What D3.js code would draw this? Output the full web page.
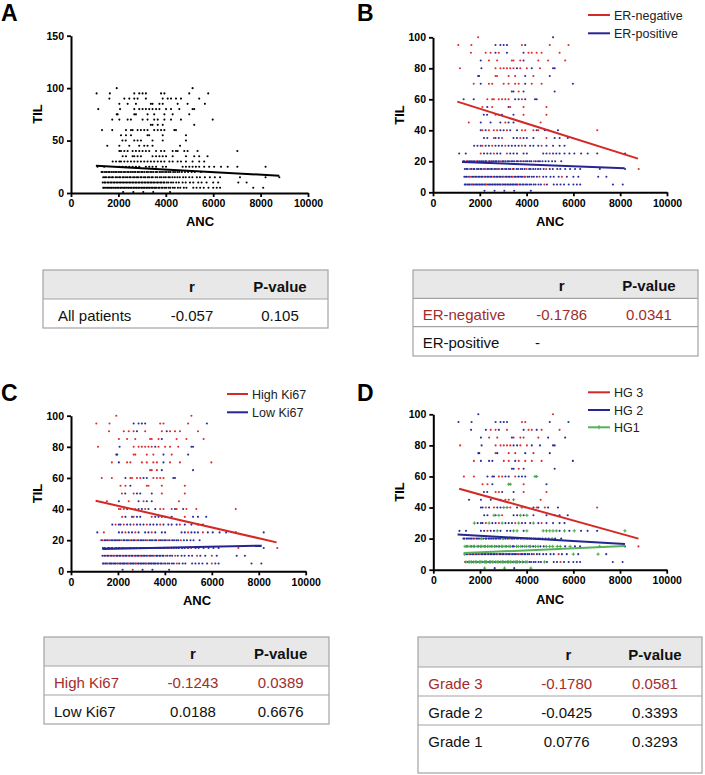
<!DOCTYPE html>
<html><head><meta charset="utf-8">
<script src="https://cdn.jsdelivr.net/npm/d3@7"></script>
<style>
body{margin:0;background:#fff}
svg{display:block}
text{font-family:Arial,"Liberation Sans",Helvetica,sans-serif}
</style>
</head><body>
<svg id="c" width="705" height="775"></svg>
<script>
// ---------------- DATA ----------------
const tilLevels = [100,95,90,85,80,75,70,65,60,55,50,45,40,35,30,25,20,15,10,5,1];
const ancByLevel = [
 [1930,5130],
 [1080,1640,2670,2880,3020,3160,3800,3940,4990,5790],
 [1620,2250,2460,2670,2810,3160,3870,4080,4220,4430,4640,5410],
 [2040,2390,2740,3370,3440,3730,3870,4500,4920,5650],
 [1150,2070,2670,2880,3020,3160,3300,3440,3590,3730,4010,4220,4570,5130,5200],
 [1930,1970,2670,2740,3230,3510,3940,4290,4990],
 [1740,2040,2390,2530,3020,3230,3510,3660,3940,4220,4640,5980],
 [3370,3440,3660,3870,5200],
 [1310,1740,2320,2530,2600,2810,2950,3090,3230,3510,3660,3800,3940,4360,4430],
 [2110,2320,2530,3230,3300,3870,4850],
 [2170,2310,2670,2810,2950,3440,3870,4850],
 [1530,2040,2460,2880,3090,3230,3440,4600],
 [2040,2110,2250,2390,2600,2740,2880,3020,3160,3300,3590,3800,3940,4290,4430,4500,4780,4920,5340,7020],
 [2180,2320,2600,2670,2810,2950,3440,3590,3730,3870,4010,4290,4850,5200,5410,5760],
 [1760,1900,2040,2110,2250,2390,2530,2670,2810,2950,3090,3230,3370,3510,3660,3800,3940,4150,4290,4500,4640,4850,5130,5410,5620],
 [1120,1400,2040,2180,2320,2460,2600,2740,2880,3160,3300,3440,3590,3870,4010,4710,4850,4990,5130,5270,5410,5620,5830,6040,6330,6610,7020,8210],
 [1290,1340,1430,1490,1570,1630,1710,1780,1860,1920,2000,2070,2140,2230,2280,2370,2430,2510,2580,2660,2720,2810,2870,2960,3020,3100,3190,3250,3340,3410,3480,3580,3630,3730,3800,3880,3970,4040,4130,4200,4310,4390,4490,4570,4680,4810,4940,5090,5220,5480],
 [1360,1430,1480,1580,1640,1730,1770,1880,1940,2030,2080,2180,2230,2320,2390,2480,2520,2620,2690,2780,2830,2930,2980,3080,3140,3240,3300,3400,3450,3570,3640,3750,3820,3920,4000,4110,4170,4280,4380,4490,4590,4730,4840,4990,5120,5310,5440,5650,5860,6070,6290,7130,8210,8790],
 [1340,1410,1450,1540,1590,1670,1720,1800,1850,1930,1980,2060,2110,2190,2240,2320,2370,2450,2500,2580,2630,2710,2760,2840,2890,2970,3020,3100,3150,3230,3280,3360,3410,3490,3540,3630,3670,3760,3810,3900,3940,4040,4110,4220,4310,4440,4550,4710,4840,5020,5160,5370,5510,5720,6000,6210,7060,7410],
 [1360,1400,1470,1530,1570,1640,1690,1730,1800,1860,1900,1970,2010,2080,2120,2190,2240,2280,2350,2410,2450,2520,2560,2630,2670,2740,2780,2850,2890,2960,3000,3070,3110,3180,3220,3290,3330,3400,3440,3510,3560,3610,3690,3730,3820,3870,3960,4020,4120,4190,4300,4380,4510,4610,4760,4870,5160,5300,5450,5600,5800,6000,6150,6290,7690,8110],
 [2200,2630,3050,3470,4180]
];
// ER status per point (N = ER-negative, P = ER-positive)
const erByLevel = [
 "NP","NNPPPPNPNN","NNNPNPPNNNNN","PNNNNNPNNN","NPNNNNNNPNNPNPP","PPNNNNPNP",
 "NPNNNNNNPNNP","PPNPP","PPNNNNNNNPPNPPP","NPNPNNN","PPNNPPNN","NPPPNPPN",
 "PNPNNNPPNPPNNNPNPNPN","PPNPPNPPNPPPNPPP","PPPNPPNPPPNPPPPNPPPPNPPPP",
 "PPNPPPNPPNPPPPPPPNPPPPPPPPPP",
 "PPNPPPPPNP"+"PPPPPNPPPP"+"PPNPPPPPPP"+"PPPPNPPPPP"+"NPPPPPPPPP",
 "PPPNPPPPPP"+"PPNPPPPPPP"+"NPPPPPPNPP"+"PPPPNPPPPP"+"PPNPPPPPPP"+"PPPN",
 "PPPPNPPPPP"+"PPPNPPPPPN"+"PPPPPPNPPP"+"PPNPPPPPPP"+"NPPPPPNPPP"+"PPNPPPPP",
 "PPPPPPNPPP"+"PPPPPPPNPP"+"PPPPPPPPPN"+"PPPPPPPPPP"+"PPNPPPPPPP"+"PPPPNPPPPP"+"PPPPPP",
 "PPPPP"
];
// Ki67 per point (H = high, L = low)
const ki67ByLevel = [
 "HH","HHLLLLHHHL","HHHHLHHLHHHH","HHHHHHLHHH","HLHHHHHHLHHHHLL","LLHHHHLHL",
 "HLHHHHHHLHHH","HHHLL","HHLHHHHLLHHHHLL","HHLHHHH","HLHLLLHH","HLHLHLLH",
 "HHHLHHLLHLLHHHLHLHHH","HLLHLLHLLLLLHLLL","LHLLHLLHLLLHLLLHLLLLHLLLL",
 "LHLLHLL"+"HLLLHLL"+"LLLHLLL"+"HLLLLLL",
 "LHLLLHLLLL"+"LLHLLLLHLL"+"LHLLLLLHLL"+"LLLHLLLLHL"+"LLLLHLLLLL",
 "LLHLLLLHLL"+"LLLLHLLLLL"+"HLLLLLLHLL"+"LLLLLLHLLL"+"LLLLHLLLLL"+"LHLH",
 "LHLLLHLLHL"+"LLLHLLLHLL"+"LHLLLHLLLL"+"HLLLHLLLLL"+"LHLLLHLLLL"+"LHLLHLLL",
 "LLLLHLLLLL"+"LLHLLLLLLL"+"HLLLLLHLLL"+"LLLLHLLLLL"+"LLLLLLHLLL"+"LLHLLLLLLL"+"LHLLLL",
 "LHLLL"
];
// Histological grade per point (1, 2, 3)
const gradeByLevel = [
 "23","2222223322","223323233233","2332333322","323333322332222","223233232",
 "322233233332","22322","332223322322211","3321132","22332233","22223313",
 "22323221132132323223","2212132212122222","1222312231222312221232222",
 "2222322122211211111121212221",
 "2222222322"+"2122222222"+"2221222322"+"2222212222"+"2222222122",
 "1211211121"+"1211121121"+"2111211221"+"1121121211"+"2211111212"+"2123",
 "1223222322"+"3222232222"+"2232222322"+"2322223222"+"2222322222"+"23221212",
 "3121112111"+"2111211121"+"1112111211"+"1211111211"+"1112121122"+"2222122232"+"222222",
 "12121"
];

const xTicks = [0,2000,4000,6000,8000,10000];
const yTicksA = [0,50,100,150];
const yTicksBCD = [0,20,40,60,80,100];

// regression lines: [[ANC start, TIL start],[ANC end, TIL end]]
const fitAll     = [[1050,26.1],[8790,16.5]];
const fitErNeg   = [[1040,58.5],[8760,21.7]];
const fitErPos   = [[1240,19.6],[8190,15.5]];
const fitHighKi  = [[1050,45.4],[8760,18.6]];
const fitLowKi   = [[1335,14.3],[8125,16.5]];
const fitHG3     = [[1110,52.1],[8790,20.0]];
const fitHG2     = [[1040,22.7],[8210,16.5]];
const fitHG1     = [[1300,10.7],[8210,15.2]];

const tableHeader = ["", "r", "P-value"];
const tableA = [["All patients","-0.057","0.105"]];
const tableB = [["ER-negative","-0.1786","0.0341"],["ER-positive","-",""]];
const tableC = [["High Ki67","-0.1243","0.0389"],["Low Ki67","0.0188","0.6676"]];
const tableD = [["Grade 3","-0.1780","0.0581"],["Grade 2","-0.0425","0.3393"],["Grade 1","0.0776","0.3293"]];

// ---------------- BUILD ----------------
const points = [];
tilLevels.forEach((til, i) => {
  ancByLevel[i].forEach((anc, j) => {
    points.push({anc, til,
      er: erByLevel[i].charAt(j) || "P",
      ki: ki67ByLevel[i].charAt(j) || "L",
      gr: gradeByLevel[i].charAt(j) || "2"});
  });
});

const RED = "#df2b2b", BLUE = "#2b2b9a", GREEN = "#45a34a";
const LRED = "#d42a26", LBLUE = "#262690", LGREEN = "#55b35a";
const svg = d3.select("#c");

function panel(cfg) {
  const x = d3.scaleLinear().domain([0, 10000]).range([cfg.x0, cfg.x1]);
  const y = d3.scaleLinear().domain([0, cfg.yMax]).range([cfg.yB, cfg.yT]);
  const g = svg.append("g");

  // points
  const circ = points.filter(d => !cfg.plus || !cfg.plus(d));
  g.append("g").selectAll("circle").data(circ).join("circle")
    .attr("cx", d => x(d.anc)).attr("cy", d => y(d.til))
    .attr("r", 1.05).attr("fill", d => cfg.color(d));
  if (cfg.plus) {
    const pl = points.filter(cfg.plus);
    g.append("g").selectAll("path").data(pl).join("path")
      .attr("d", d => `M${x(d.anc)-1.6},${y(d.til)}h3.2M${x(d.anc)},${y(d.til)-1.6}v3.2`)
      .attr("stroke", GREEN).attr("stroke-width", 1);
  }
  // fit lines
  const line = d3.line().x(d => x(d[0])).y(d => y(d[1]));
  cfg.fits.forEach(f => {
    g.append("path").attr("d", line(f.data)).attr("stroke", f.color)
      .attr("stroke-width", 2).attr("fill", "none");
  });

  // axes
  const xa = g.append("g").attr("transform", `translate(0,${cfg.yB})`)
    .call(d3.axisBottom(x).tickValues(xTicks).tickSize(4).tickSizeOuter(0).tickPadding(3).tickFormat(d3.format("d")));
  const ya = g.append("g").attr("transform", `translate(${cfg.x0},0)`)
    .call(d3.axisLeft(y).tickValues(cfg.yTicks).tickSize(4).tickSizeOuter(0).tickPadding(3).tickFormat(d3.format("d")));
  [xa, ya].forEach(a => {
    a.select(".domain").attr("stroke", "#000").attr("stroke-width", 2);
    a.selectAll(".tick line").attr("stroke", "#000").attr("stroke-width", 1.8);
    a.selectAll(".tick text").attr("fill", "#000").style("font-size", "10.5px")
      .style("font-weight", "bold").style("font-family", "Arial, 'Liberation Sans', sans-serif");
  });

  // labels
  g.append("text").attr("x", cfg.letter[0]).attr("y", cfg.letter[1])
    .style("font-size", "23px").style("font-weight", "bold").text(cfg.name);
  g.append("text").attr("x", cfg.anc[0]).attr("y", cfg.anc[1]).attr("text-anchor", "middle")
    .style("font-size", "13px").style("font-weight", "bold").text("ANC");
  g.append("text").attr("transform", `translate(${cfg.til[0]},${cfg.til[1]}) rotate(-90)`)
    .attr("text-anchor", "middle").style("font-size", "13px").style("font-weight", "bold").text("TIL");

  // legend
  if (cfg.legend) {
    cfg.legend.items.forEach((it, i) => {
      const ly = cfg.legend.ys[i];
      g.append("line").attr("x1", cfg.legend.x1).attr("x2", cfg.legend.x2)
        .attr("y1", ly).attr("y2", ly).attr("stroke", it.color).attr("stroke-width", 2);
      if (it.marker) {
        const mx = (cfg.legend.x1 + cfg.legend.x2) / 2;
        g.append("path").attr("d", `M${mx-2},${ly}h4M${mx},${ly-2}v4`)
          .attr("stroke", it.color).attr("stroke-width", 1.2);
      }
      g.append("text").attr("x", cfg.legend.tx).attr("y", ly + 4.5)
        .style("font-size", "12.5px").attr("fill", "#222").text(it.label);
    });
  }
}

panel({name: "A", x0: 71, x1: 308, yB: 193, yT: 35.7, yMax: 150, yTicks: yTicksA,
  color: () => "#000", fits: [{data: fitAll, color: "#000"}],
  letter: [1, 21], anc: [200, 226], til: [41.5, 114]});

panel({name: "B", x0: 433, x1: 667, yB: 192.3, yT: 37.3, yMax: 100, yTicks: yTicksBCD,
  color: d => d.er === "N" ? RED : BLUE,
  fits: [{data: fitErNeg, color: LRED}, {data: fitErPos, color: LBLUE}],
  letter: [357, 21], anc: [550, 226], til: [404, 115],
  legend: {x1: 588, x2: 610, tx: 614, ys: [15, 33.3],
    items: [{label: "ER-negative", color: LRED}, {label: "ER-positive", color: LBLUE}]}});

panel({name: "C", x0: 71, x1: 305.7, yB: 571.3, yT: 415.7, yMax: 100, yTicks: yTicksBCD,
  color: d => d.ki === "H" ? RED : BLUE,
  fits: [{data: fitHighKi, color: LRED}, {data: fitLowKi, color: LBLUE}],
  letter: [1, 401], anc: [197, 605], til: [41.5, 493.5],
  legend: {x1: 227, x2: 248, tx: 252, ys: [394, 412.3],
    items: [{label: "High Ki67", color: LRED}, {label: "Low Ki67", color: LBLUE}]}});

panel({name: "D", x0: 433.3, x1: 666.7, yB: 569.7, yT: 414.3, yMax: 100, yTicks: yTicksBCD,
  color: d => d.gr === "3" ? RED : BLUE,
  plus: d => d.gr === "1",
  fits: [{data: fitHG3, color: LRED}, {data: fitHG2, color: LBLUE}, {data: fitHG1, color: LGREEN}],
  letter: [357, 401], anc: [550, 604], til: [404, 492],
  legend: {x1: 588, x2: 610, tx: 614, ys: [392.3, 410, 427.3],
    items: [{label: "HG 3", color: LRED}, {label: "HG 2", color: LBLUE}, {label: "HG1", color: LGREEN, marker: true}]}});

// ---------------- TABLES ----------------
function table(cfg, rows, redFirst) {
  const g = svg.append("g");
  const border = "#a3a3a3";
  g.append("rect").attr("x", cfg.left).attr("y", cfg.top).attr("width", cfg.right - cfg.left)
    .attr("height", cfg.lines[0] - cfg.top).attr("fill", "#e8e8e8");
  g.append("rect").attr("x", cfg.left).attr("y", cfg.top).attr("width", cfg.right - cfg.left)
    .attr("height", cfg.bottom - cfg.top).attr("fill", "none").attr("stroke", border).attr("stroke-width", 1.2);
  cfg.lines.forEach(ly => g.append("line").attr("x1", cfg.left).attr("x2", cfg.right)
    .attr("y1", ly).attr("y2", ly).attr("stroke", border).attr("stroke-width", 1.2));
  // header
  g.append("text").attr("x", cfg.rx).attr("y", cfg.base[0]).attr("text-anchor", "middle")
    .style("font-size", "15px").style("font-weight", "bold").attr("fill", "#111").text(tableHeader[1]);
  g.append("text").attr("x", cfg.px).attr("y", cfg.base[0]).attr("text-anchor", "middle")
    .style("font-size", "15px").style("font-weight", "bold").attr("fill", "#111").text(tableHeader[2]);
  rows.forEach((r, i) => {
    const col = (redFirst && i === 0) ? "#a12d2b" : "#111";
    const yb = cfg.base[i + 1];
    g.append("text").attr("x", cfg.lx).attr("y", yb).style("font-size", "15px").attr("fill", col).text(r[0]);
    if (r[1] === "-") {
      g.append("text").attr("x", cfg.dashX).attr("y", yb).style("font-size", "15px").attr("fill", col).text(r[1]);
    } else {
      g.append("text").attr("x", cfg.rvx || cfg.rx).attr("y", yb).attr("text-anchor", "middle")
        .style("font-size", "15px").attr("fill", col).text(r[1]);
    }
    g.append("text").attr("x", cfg.px).attr("y", yb).attr("text-anchor", "middle")
      .style("font-size", "15px").attr("fill", col).text(r[2]);
  });
}

table({left: 43, right: 328, top: 270, bottom: 328, lines: [299],
  base: [291.7, 321], lx: 58, rx: 192, px: 280}, tableA, false);
table({left: 413, right: 698, top: 270, bottom: 356, lines: [298.3, 326.7],
  base: [290.7, 319.5, 348], lx: 422.7, rx: 561.7, px: 649, dashX: 535}, tableB, true);
table({left: 44, right: 329, top: 637, bottom: 724, lines: [666, 695],
  base: [658.5, 687.5, 716.5], lx: 54, rx: 193, px: 280.7}, tableC, true);
table({left: 418, right: 702, top: 637, bottom: 773, lines: [667, 696, 725],
  base: [659.5, 689, 718, 747], lx: 428.3, rx: 568.3, rvx: 566.7, px: 655}, tableD, true);
</script>
</body></html>
